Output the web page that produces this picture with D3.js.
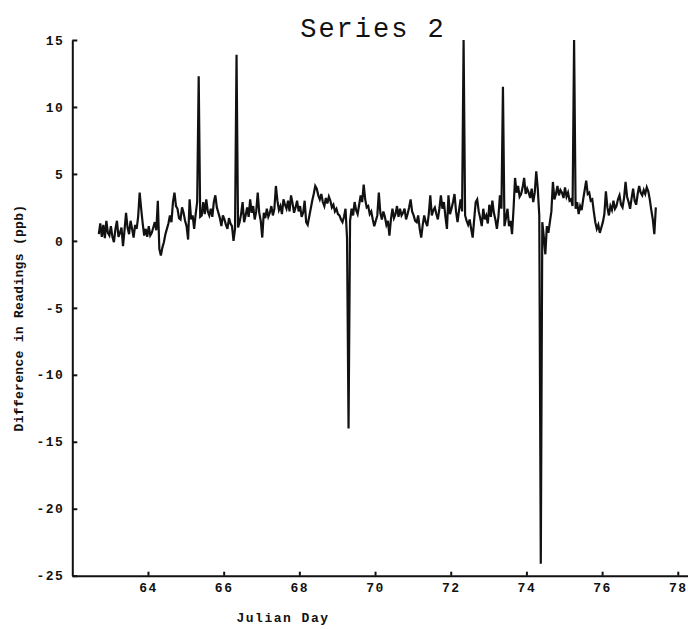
<!DOCTYPE html>
<html><head><meta charset="utf-8">
<script src="https://cdn.jsdelivr.net/npm/d3@7"></script>
<style>
body{margin:0;background:#fff;}
svg{display:block;}
.tick text{font-family:"Liberation Mono",monospace;font-size:13px;font-weight:bold;letter-spacing:1.5px;fill:#111;}
</style></head><body>
<svg id="c" width="688" height="629"></svg>
<script>
const title = "Series 2";
const xLabel = "Julian Day";
const yLabel = "Difference in Readings (ppb)";
const xTicks = [64, 66, 68, 70, 72, 74, 76, 78];
const yTicks = [15, 10, 5, 0, -5, -10, -15, -20, -25];

// regularly sampled series: first sample day and sampling interval (days)
const firstDay = 62.70;
const sampleStep = 0.04;
const values = [
0.5,1.3,0.3,1.2,0.2,1.5,0.6,0.4,1.1,0.3,
-0.1,0.9,1.5,0.3,0.6,1.0,-0.4,0.8,2.1,1.0,
0.5,1.5,0.9,0.25,1.2,0.9,1.8,3.6,2.4,1.3,
0.4,0.9,0.3,1.1,0.4,0.6,1.0,1.4,0.8,3.0,
-0.6,-1.1,-0.5,-0.1,0.5,0.9,1.3,1.9,1.4,2.9,
3.6,2.6,2.4,1.7,1.6,2.5,2.1,1.5,1.1,0.1,
3.1,1.6,1.9,0.9,2.0,2.9,12.3,1.8,1.9,2.9,
2.0,3.1,2.2,1.9,2.4,1.8,2.9,3.4,2.5,2.1,
1.7,1.1,1.9,1.6,1.2,0.9,1.7,1.3,1.1,0.0,
0.9,13.9,1.0,1.4,2.0,2.9,1.4,1.9,2.5,1.8,
3.1,2.1,2.6,1.6,2.2,3.6,2.1,1.5,0.25,2.1,
1.7,2.4,1.8,2.1,2.6,1.9,2.4,4.1,3.0,2.3,
2.6,2.0,3.1,2.7,2.4,3.0,2.2,3.4,2.8,2.1,
2.5,3.0,2.2,2.6,1.8,2.1,3.0,1.4,1.2,1.8,
2.4,3.0,3.5,4.1,3.9,3.4,3.1,3.5,2.9,2.6,
3.2,2.8,3.3,3.0,2.5,2.7,2.2,2.4,2.0,1.9,
1.6,1.4,1.8,2.4,0.2,-14.0,1.5,2.4,1.9,2.9,
2.3,2.0,2.7,3.4,2.9,4.2,3.1,2.5,2.6,2.0,
2.2,1.6,1.1,1.5,1.9,3.6,2.1,1.6,2.2,1.8,
1.2,1.5,0.4,1.6,2.4,1.7,2.0,2.6,1.8,2.4,
1.9,2.1,2.4,1.6,2.0,2.5,3.1,2.2,1.9,1.5,
1.4,1.9,0.9,0.25,1.2,1.9,1.4,1.1,2.0,3.4,
1.9,2.3,2.5,2.0,1.6,2.4,3.4,2.4,2.9,1.8,
0.9,3.4,2.0,2.4,2.9,3.5,2.2,1.4,2.3,3.1,
2.2,15.0,1.9,1.5,1.2,1.6,0.9,0.25,1.6,2.9,
3.1,2.2,1.7,1.1,2.4,1.6,1.9,1.3,2.7,1.8,
3.0,2.1,1.6,0.9,1.8,3.4,2.4,11.5,1.1,1.7,
2.4,1.1,1.5,0.5,2.4,4.7,3.6,4.1,3.3,3.5,
4.0,4.7,3.5,3.9,3.6,3.2,3.9,2.9,3.6,5.2,
3.9,1.9,-24.1,1.4,0.3,-1.0,1.1,0.6,1.4,2.2,
4.4,3.1,3.5,4.1,3.4,3.8,3.6,3.2,4.0,3.3,
3.6,3.0,3.1,2.6,15.0,2.4,2.9,2.0,2.6,2.3,
3.1,3.8,4.5,3.5,3.6,3.0,3.1,2.2,1.4,0.9,
1.2,0.6,1.0,1.4,2.0,3.7,2.5,1.9,2.6,2.3,
3.0,2.4,2.6,3.1,3.4,2.7,2.5,3.2,4.4,3.3,
2.9,2.4,3.2,3.9,3.0,2.7,3.5,4.1,3.6,3.4,
3.8,3.5,4.0,3.7,3.1,2.3,1.6,0.5,2.5
];

const svg = d3.select("#c");
const x = d3.scaleLinear().domain([62, 78.27]).range([72.3, 688]);
const y = d3.scaleLinear().domain([-25, 15]).range([575.7, 40]);

const pts = values.map((v, i) => [firstDay + i * sampleStep, v]);
const line = d3.line().x(d => x(d[0])).y(d => y(d[1]));
svg.append("path").datum(pts).attr("d", line)
  .attr("fill", "none").attr("stroke", "#111").attr("stroke-width", 2.2)
  .attr("stroke-linejoin", "miter").attr("stroke-miterlimit", 4);

const ya = svg.append("g").attr("transform", `translate(${x.range()[0]},0)`)
  .call(d3.axisLeft(y).tickValues(yTicks).tickSizeInner(-5).tickSizeOuter(0).tickPadding(8)
    .tickFormat(d => d3.format("d")(d).replace("−", "-")));
const xa = svg.append("g").attr("transform", `translate(0,${y.range()[0]})`)
  .call(d3.axisBottom(x).tickValues(xTicks).tickSizeInner(-4).tickSizeOuter(0).tickPadding(7));
[ya, xa].forEach(g => {
  g.select(".domain").attr("stroke", "#111").attr("stroke-width", 2);
  g.selectAll(".tick line").attr("stroke", "#111").attr("stroke-width", 2);
});

svg.append("text").text(title).attr("x", 373).attr("y", 37)
  .attr("text-anchor", "middle").attr("font-family", "Liberation Mono, monospace")
  .attr("font-size", 27).attr("letter-spacing", "2px").attr("fill", "#111");
svg.append("text").text(xLabel).attr("x", 283).attr("y", 622)
  .attr("text-anchor", "middle").attr("font-family", "Liberation Mono, monospace")
  .attr("font-size", 13).attr("font-weight", "bold").attr("letter-spacing", "1.5px").attr("fill", "#111");
svg.append("text").text(yLabel).attr("transform", "translate(23,318) rotate(-90)")
  .attr("text-anchor", "middle").attr("font-family", "Liberation Mono, monospace")
  .attr("font-size", 13).attr("font-weight", "bold").attr("letter-spacing", "0.3px").attr("fill", "#111");
</script></body></html>
